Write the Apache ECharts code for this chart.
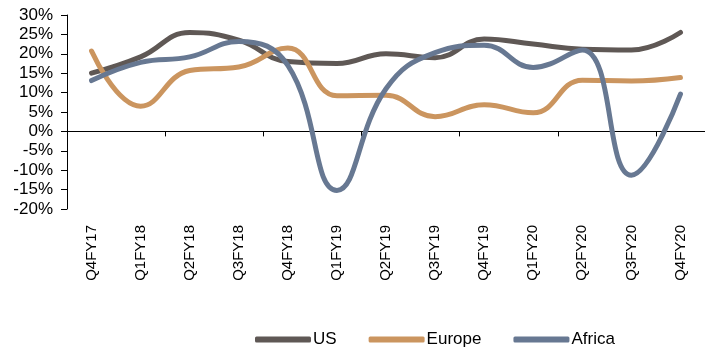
<!DOCTYPE html>
<html>
<head>
<meta charset="utf-8">
<script src="https://cdn.jsdelivr.net/npm/echarts@6/dist/echarts.min.js"></script>
<style>
  html, body { margin: 0; padding: 0; background: #fff; }
  #chart { width: 705px; height: 347px; }
</style>
</head>
<body>
<div id="chart"></div>
<script>
// Quarterly growth by region (%)
const quarters = ['Q4FY17', 'Q1FY18', 'Q2FY18', 'Q3FY18', 'Q4FY18', 'Q1FY19', 'Q2FY19',
                  'Q3FY19', 'Q4FY19', 'Q1FY20', 'Q2FY20', 'Q3FY20', 'Q4FY20'];
const usGrowth     = [15.0, 19.2, 25.5, 23.5, 18.0, 17.5, 20.0, 19.0, 23.8, 22.5, 21.2, 21.0, 25.5];
const europeGrowth = [20.7, 6.5, 15.7, 16.6, 21.5, 9.2, 9.3, 3.8, 6.9, 4.8, 13.2, 13.0, 13.9];
const africaGrowth = [13.1, 17.8, 19.2, 23.2, 17.0, -15.2, 11.0, 20.3, 22.2, 16.5, 21.0, -11.3, 9.6];
const yTicks = { min: -20, max: 30, step: 5 };

const font = 'Liberation Sans, Arial, sans-serif';
const colors = { us: '#5F5855', europe: '#CB955F', africa: '#677892' };

function lineSeries(name, data, color) {
  return {
    name, type: 'line', data, smooth: 0.45, symbol: 'none',
    xAxisIndex: 0,
    lineStyle: { width: 5, color, cap: 'round', join: 'round' },
    itemStyle: { color }
  };
}

const chart = echarts.init(document.getElementById('chart'), null, { renderer: 'canvas' });
chart.setOption({
  animation: false,
  textStyle: { fontFamily: font, color: '#000' },
  grid: { left: 67, right: 0, top: 15, bottom: 138, containLabel: false },
  legend: {
    bottom: -6, left: 250,
    icon: 'roundRect', itemWidth: 56, itemHeight: 6, itemGap: 32,
    textStyle: { fontFamily: font, fontSize: 17, color: '#000', padding: [0, 0, 0, -3] },
    data: ['US', 'Europe', 'Africa']
  },
  xAxis: [
    {
      type: 'category', data: quarters, boundaryGap: true,
      axisLine: { onZero: true, lineStyle: { color: '#000', width: 1 } },
      axisTick: { show: true, length: 5, lineStyle: { color: '#000' } },
      axisLabel: { show: false },
      splitLine: { show: false }
    },
    {
      type: 'category', data: quarters, boundaryGap: true, position: 'bottom',
      axisLine: { show: false, onZero: false },
      axisTick: { show: false },
      axisLabel: { rotate: 90, margin: 16, fontSize: 15, color: '#000', fontFamily: font },
      splitLine: { show: false }
    }
  ],
  yAxis: {
    type: 'value', min: yTicks.min, max: yTicks.max, interval: yTicks.step,
    axisLine: { show: true, lineStyle: { color: '#000', width: 1 } },
    axisTick: { show: true, length: 6, lineStyle: { color: '#000' } },
    axisLabel: { formatter: '{value}%', fontSize: 17, color: '#000', margin: 14, fontFamily: font },
    splitLine: { show: false }
  },
  series: [
    lineSeries('US', usGrowth, colors.us),
    lineSeries('Europe', europeGrowth, colors.europe),
    lineSeries('Africa', africaGrowth, colors.africa)
  ]
});
</script>
</body>
</html>
